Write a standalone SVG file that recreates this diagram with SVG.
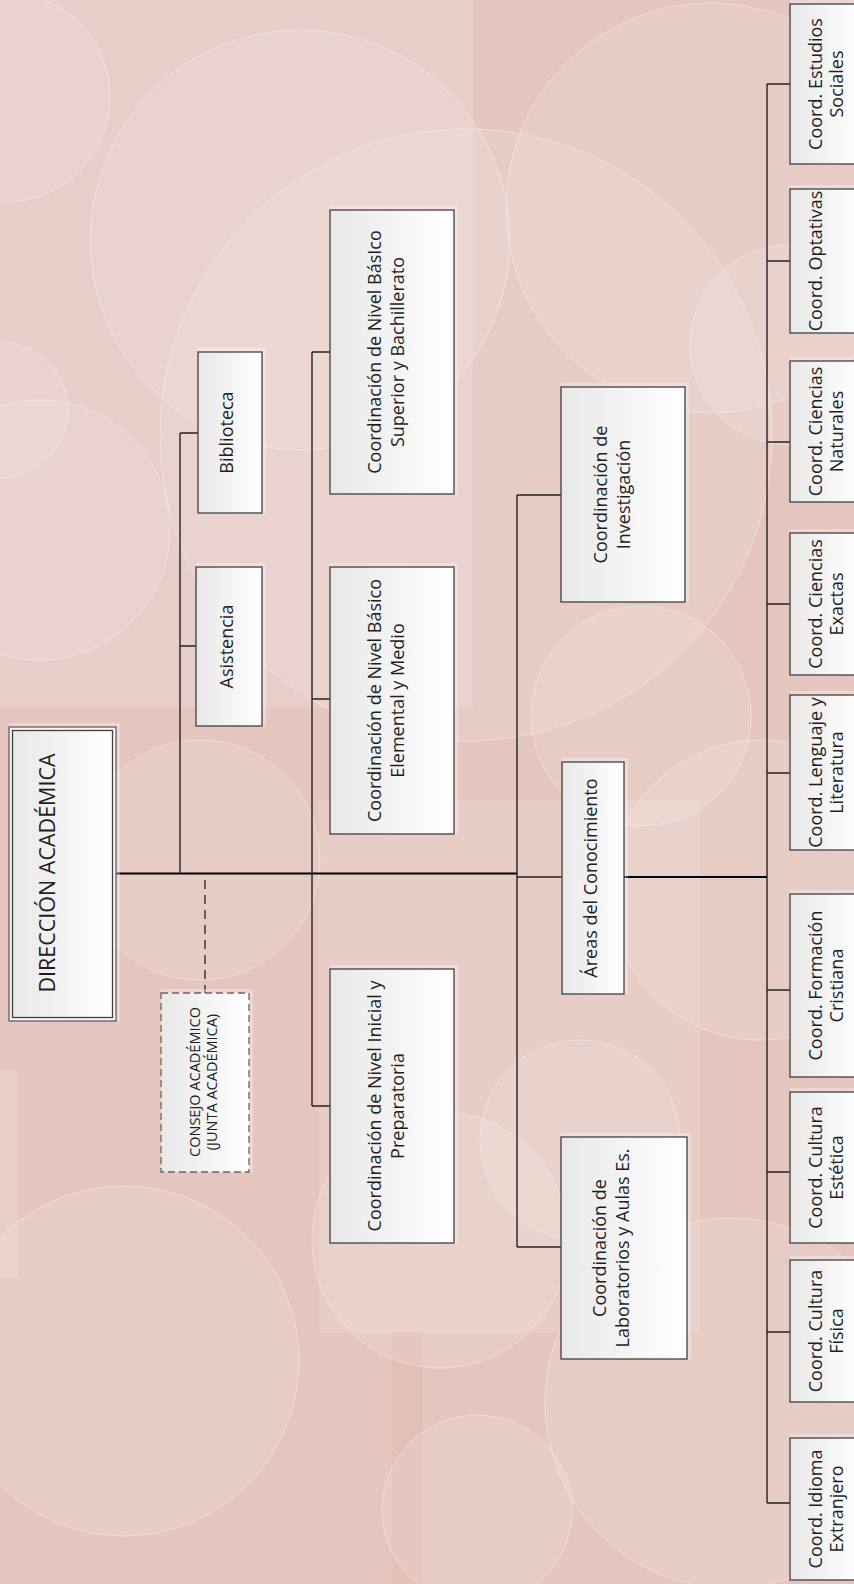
<svg xmlns="http://www.w3.org/2000/svg" width="854" height="1584" viewBox="0 0 854 1584">
<defs>
<linearGradient id="bf" x1="0" y1="0" x2="1" y2="0">
<stop offset="0" stop-color="#e8e8e8"/>
<stop offset="1" stop-color="#ffffff"/>
</linearGradient>
<style>
.bx{fill:url(#bf);stroke:#404040;stroke-width:1.3}
.gl{fill:#ffffff;fill-opacity:0.3;stroke:none}
.t{font-family:"Open Sans","Liberation Sans",sans-serif;font-size:18px;fill:#1e1e1e;text-anchor:middle}
.c{fill:#ffffff;fill-opacity:0.11;stroke:#ffffff;stroke-opacity:0.35;stroke-width:1}
.ln{fill:none;stroke:#222;stroke-width:1.4}
.lm{fill:none;stroke:#000;stroke-width:2}
</style>
</defs>
<g id="background">
<rect x="0" y="0" width="854" height="1584" fill="#e5c6bf"/>
<rect x="0" y="0" width="473" height="708" fill="#ffffff" fill-opacity="0.14"/>
<rect x="319" y="800" width="381" height="533" fill="#ffffff" fill-opacity="0.12"/>
<rect x="0" y="1070" width="18" height="208" fill="#ffffff" fill-opacity="0.15"/>
<rect x="392" y="1333" width="30" height="251" fill="#d9aaa2" fill-opacity="0.2"/>
<circle class="c" cx="5" cy="97" r="105"/>
<circle class="c" cx="300" cy="240" r="210"/>
<circle class="c" cx="466" cy="435" r="306"/>
<circle class="c" cx="711" cy="208" r="205"/>
<circle class="c" cx="790" cy="345" r="100"/>
<circle class="c" cx="0" cy="410" r="68"/>
<circle class="c" cx="40" cy="530" r="130"/>
<circle class="c" cx="641" cy="716" r="110"/>
<circle class="c" cx="760" cy="890" r="150"/>
<circle class="c" cx="200" cy="860" r="120"/>
<circle class="c" cx="124" cy="1361" r="175"/>
<circle class="c" cx="440" cy="1240" r="128"/>
<circle class="c" cx="477" cy="1510" r="95"/>
<circle class="c" cx="730" cy="1403" r="185"/>
<circle class="c" cx="580" cy="1140" r="100"/>
</g>
<g id="connectors">
<path class="lm" d="M116,873.5 H517"/>
<path class="ln" d="M180,433 V873.5 M180,433 H198 M180,646 H196"/>
<path class="ln" d="M312,352 V1106 M312,352 H330 M312,699 H330 M312,1106 H330"/>
<path class="ln" d="M517,495 V1247 M517,495 H561 M517,877 H562 M517,1247 H561"/>
<path class="lm" d="M624,877 H767"/>
<path class="ln" d="M767,84 V1503 M767,84 H790 M767,261 H790 M767,442 H790 M767,604 H790 M767,773 H790 M767,990 H790 M767,1172 H790 M767,1332 H790 M767,1503 H790"/>
<path d="M205,880 V993" fill="none" stroke="#444" stroke-width="1.6" stroke-dasharray="9,6"/>
</g>
<g id="direccion">
<rect class="gl" x="9" y="723" width="111" height="298"/>
<rect x="9" y="727" width="107" height="294" fill="#f7f7f7" stroke="#555" stroke-width="1.2"/>
<rect class="bx" x="12.5" y="730.5" width="100" height="287"/>
<text class="t" transform="translate(55,873) rotate(-90)" style="font-size:21.5px">DIRECCIÓN ACADÉMICA</text>
</g>
<g id="consejo">
<rect class="gl" x="161" y="989" width="92" height="183"/>
<rect x="161" y="993" width="88" height="179" fill="url(#bf)" stroke="#666" stroke-width="1.3" stroke-dasharray="7,4"/>
<text class="t" transform="translate(200,1082) rotate(-90)" style="font-size:14.5px">CONSEJO ACADÉMICO</text>
<text class="t" transform="translate(217,1082) rotate(-90)" style="font-size:14.5px">(JUNTA ACADÉMICA)</text>
</g>
<g id="biblioteca">
<rect class="gl" x="198" y="348" width="68" height="165"/>
<rect class="bx" x="198" y="352" width="64" height="161"/>
<text class="t" transform="translate(233,432.5) rotate(-90)">Biblioteca</text>
</g>
<g id="asistencia">
<rect class="gl" x="196" y="563" width="70" height="163"/>
<rect class="bx" x="196" y="567" width="66" height="159"/>
<text class="t" transform="translate(233,646.5) rotate(-90)">Asistencia</text>
</g>
<g id="superior">
<rect class="gl" x="330" y="206" width="128" height="288"/>
<rect class="bx" x="330" y="210" width="124" height="284"/>
<text class="t" transform="translate(381,352) rotate(-90)">Coordinación de Nivel BásIco</text>
<text class="t" transform="translate(404,352) rotate(-90)">Superior y Bachillerato</text>
</g>
<g id="elemental">
<rect class="gl" x="330" y="563" width="128" height="271"/>
<rect class="bx" x="330" y="567" width="124" height="267"/>
<text class="t" transform="translate(381,700.5) rotate(-90)">Coordinación de Nivel Básico</text>
<text class="t" transform="translate(404,700.5) rotate(-90)">Elemental y Medio</text>
</g>
<g id="inicial">
<rect class="gl" x="330" y="965" width="128" height="278"/>
<rect class="bx" x="330" y="969" width="124" height="274"/>
<text class="t" transform="translate(381,1106) rotate(-90)">Coordinación de Nivel Inicial y</text>
<text class="t" transform="translate(404,1106) rotate(-90)">Preparatoria</text>
</g>
<g id="investigacion">
<rect class="gl" x="561" y="383" width="128" height="219"/>
<rect class="bx" x="561" y="387" width="124" height="215"/>
<text class="t" transform="translate(607,494.5) rotate(-90)">Coordinación de</text>
<text class="t" transform="translate(630,494.5) rotate(-90)">Investigación</text>
</g>
<g id="areas">
<rect class="gl" x="562" y="758" width="66" height="236"/>
<rect class="bx" x="562" y="762" width="62" height="232"/>
<text class="t" transform="translate(597,878) rotate(-90)">Áreas del Conocimiento</text>
</g>
<g id="laboratorios">
<rect class="gl" x="561" y="1133" width="130" height="226"/>
<rect class="bx" x="561" y="1137" width="126" height="222"/>
<text class="t" transform="translate(606,1248) rotate(-90)">Coordinación de</text>
<text class="t" transform="translate(629,1248) rotate(-90)">Laboratorios y Aulas Es.</text>
</g>
<g id="estudios">
<rect class="gl" x="790" y="0" width="70" height="164"/>
<rect class="bx" x="790" y="4" width="70" height="160"/>
<text class="t" transform="translate(822,84) rotate(-90)">Coord. Estudios</text>
<text class="t" transform="translate(843,84) rotate(-90)">Sociales</text>
</g>
<g id="optativas">
<rect class="gl" x="790" y="185" width="70" height="148"/>
<rect class="bx" x="790" y="189" width="70" height="144"/>
<text class="t" transform="translate(822,261) rotate(-90)">Coord. Optativas</text>
</g>
<g id="naturales">
<rect class="gl" x="790" y="357" width="70" height="145"/>
<rect class="bx" x="790" y="361" width="70" height="141"/>
<text class="t" transform="translate(822,431.5) rotate(-90)">Coord. Ciencias</text>
<text class="t" transform="translate(843,431.5) rotate(-90)">Naturales</text>
</g>
<g id="exactas">
<rect class="gl" x="790" y="529" width="70" height="146"/>
<rect class="bx" x="790" y="533" width="70" height="142"/>
<text class="t" transform="translate(822,604) rotate(-90)">Coord. Ciencias</text>
<text class="t" transform="translate(843,604) rotate(-90)">Exactas</text>
</g>
<g id="lenguaje">
<rect class="gl" x="790" y="691" width="70" height="159"/>
<rect class="bx" x="790" y="695" width="70" height="155"/>
<text class="t" transform="translate(822,772.5) rotate(-90)">Coord. Lenguaje y</text>
<text class="t" transform="translate(843,772.5) rotate(-90)">Literatura</text>
</g>
<g id="formacion">
<rect class="gl" x="790" y="890" width="70" height="187"/>
<rect class="bx" x="790" y="894" width="70" height="183"/>
<text class="t" transform="translate(822,985.5) rotate(-90)">Coord. Formación</text>
<text class="t" transform="translate(843,985.5) rotate(-90)">Cristiana</text>
</g>
<g id="estetica">
<rect class="gl" x="790" y="1088" width="70" height="155"/>
<rect class="bx" x="790" y="1092" width="70" height="151"/>
<text class="t" transform="translate(822,1167.5) rotate(-90)">Coord. Cultura</text>
<text class="t" transform="translate(843,1167.5) rotate(-90)">Estética</text>
</g>
<g id="fisica">
<rect class="gl" x="790" y="1256" width="70" height="146"/>
<rect class="bx" x="790" y="1260" width="70" height="142"/>
<text class="t" transform="translate(822,1331) rotate(-90)">Coord. Cultura</text>
<text class="t" transform="translate(843,1331) rotate(-90)">Física</text>
</g>
<g id="idioma">
<rect class="gl" x="790" y="1434" width="70" height="146"/>
<rect class="bx" x="790" y="1438" width="70" height="142"/>
<text class="t" transform="translate(822,1509) rotate(-90)">Coord. Idioma</text>
<text class="t" transform="translate(843,1509) rotate(-90)">Extranjero</text>
</g>
</svg>
